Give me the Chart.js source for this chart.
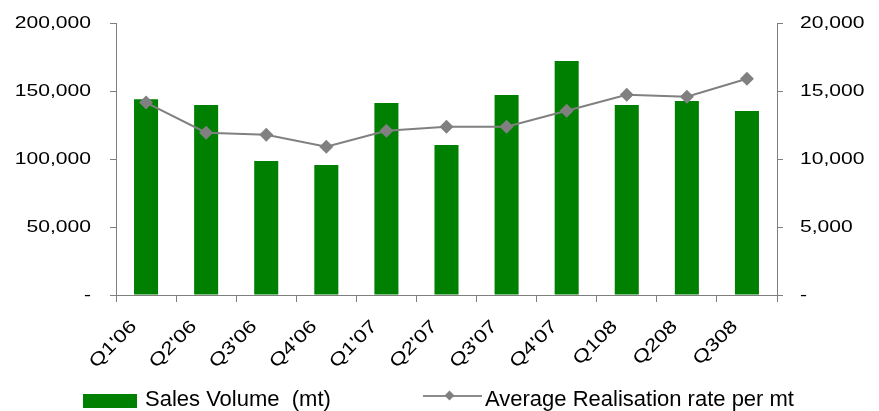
<!DOCTYPE html>
<html>
<head>
<meta charset="utf-8">
<script src="https://cdn.jsdelivr.net/npm/chart.js@4.4.1/dist/chart.umd.min.js"></script>
<style>
  html, body { margin: 0; padding: 0; background: #fff; }
  #wrap { position: relative; width: 879px; height: 411px; }
  canvas { position: absolute; left: 0; top: 0; }
  .leg { position: absolute; top: 387px; font: 22px "Liberation Sans", Arial, sans-serif; line-height: 24px; color: #000; white-space: pre; }
  .box { position: absolute; left: 83px; top: 394px; width: 54px; height: 14px; background: #008000; }
  .ln { position: absolute; left: 423px; top: 395px; width: 59px; height: 2px; background: #8c8c8c; }
  .dm { position: absolute; left: 446px; top: 392px; width: 7px; height: 7px; background: #808080; transform: rotate(45deg); }
</style>
</head>
<body>
<div id="wrap">
  <canvas id="c" width="879" height="411"></canvas>
  <div class="box"></div>
  <div class="leg" style="left:145px">Sales Volume  (mt)</div>
  <div class="ln"></div><div class="dm"></div>
  <div class="leg" style="left:485px">Average Realisation rate per mt</div>
</div>
<script>
const quarters = ["Q1'06", "Q2'06", "Q3'06", "Q4'06", "Q1'07", "Q2'07", "Q3'07", "Q4'07", "Q108", "Q208", "Q308"];
const salesVolume = [144000, 139700, 98500, 95600, 141200, 110300, 147000, 172000, 139700, 142600, 135300];
const realisationRate = [14150, 11930, 11790, 10900, 12080, 12380, 12380, 13550, 14730, 14580, 15900];
const leftTicks = [0, 50000, 100000, 150000, 200000];
const rightTicks = [0, 5000, 10000, 15000, 20000];

const axisColor = '#7f7f7f';
const font = { family: '"Liberation Sans", Arial, sans-serif', size: 17 };
const xFont = { family: '"Liberation Sans", Arial, sans-serif', size: 18 };
const fmt = v => v === 0 ? '-' : v.toLocaleString('en-US');

// Axis labels use a horizontally widened face: every string is drawn and
// measured 1.24x wider than the plain font, anchored at the same point.
const TEXT_WIDEN = 1.24;
const canvas = document.getElementById('c');
const ctx = canvas.getContext('2d');
const plainFill = ctx.fillText.bind(ctx);
const plainMeasure = ctx.measureText.bind(ctx);
ctx.fillText = function (text, x, y) {
  this.save();
  this.translate(x, y);
  this.scale(TEXT_WIDEN, 1);
  plainFill(text, 0, 0);
  this.restore();
};
ctx.measureText = function (text) {
  const m = plainMeasure(text);
  return {
    width: m.width * TEXT_WIDEN,
    actualBoundingBoxAscent: m.actualBoundingBoxAscent,
    actualBoundingBoxDescent: m.actualBoundingBoxDescent,
    actualBoundingBoxLeft: m.actualBoundingBoxLeft * TEXT_WIDEN,
    actualBoundingBoxRight: m.actualBoundingBoxRight * TEXT_WIDEN
  };
};

// Value axes: fixed width, and no extra room reserved above/below the plot.
const fitValueAxis = width => s => {
  s.width = width;
  s.paddingTop = 0;
  s.paddingBottom = 0;
};

new Chart(canvas, {
  data: {
    labels: quarters,
    datasets: [
      {
        type: 'line',
        label: 'Average Realisation rate per mt',
        data: realisationRate,
        yAxisID: 'yR',
        borderColor: '#808080',
        borderWidth: 2,
        backgroundColor: '#808080',
        pointStyle: 'rectRot',
        pointRadius: 7,
        pointBorderWidth: 0,
        tension: 0,
        order: 0
      },
      {
        type: 'bar',
        label: 'Sales Volume  (mt)',
        data: salesVolume,
        yAxisID: 'yL',
        backgroundColor: '#008000',
        categoryPercentage: 1,
        barPercentage: 0.4,
        order: 1
      }
    ]
  },
  options: {
    responsive: false,
    animation: false,
    layout: { padding: { top: 23, bottom: 0, left: 0, right: 0 } },
    plugins: { legend: { display: false }, tooltip: { enabled: false } },
    scales: {
      x: {
        offset: true,
        grid: { offset: true, drawOnChartArea: false, drawTicks: true, tickLength: 7, color: axisColor },
        border: { display: true, color: axisColor, width: 1 },
        ticks: { font: xFont, color: '#000', minRotation: 45, maxRotation: 45, autoSkip: false, padding: 14, labelOffset: -12 },
        afterFit: s => { s.height = 116; }
      },
      yL: {
        position: 'left',
        min: 0, max: 200000,
        afterBuildTicks: s => { s.ticks = leftTicks.map(v => ({ value: v })); },
        grid: { drawOnChartArea: false, drawTicks: true, tickLength: 6, color: axisColor },
        border: { display: true, color: axisColor, width: 1 },
        ticks: { font, color: '#000', callback: fmt, padding: 19 },
        afterFit: fitValueAxis(116)
      },
      yR: {
        position: 'right',
        min: 0, max: 20000,
        afterBuildTicks: s => { s.ticks = rightTicks.map(v => ({ value: v })); },
        grid: { drawOnChartArea: false, drawTicks: true, tickLength: 6, color: axisColor },
        border: { display: true, color: axisColor, width: 1 },
        ticks: { font, color: '#000', callback: fmt, padding: 17 },
        afterFit: fitValueAxis(102)
      }
    }
  }
});
</script>
</body>
</html>
